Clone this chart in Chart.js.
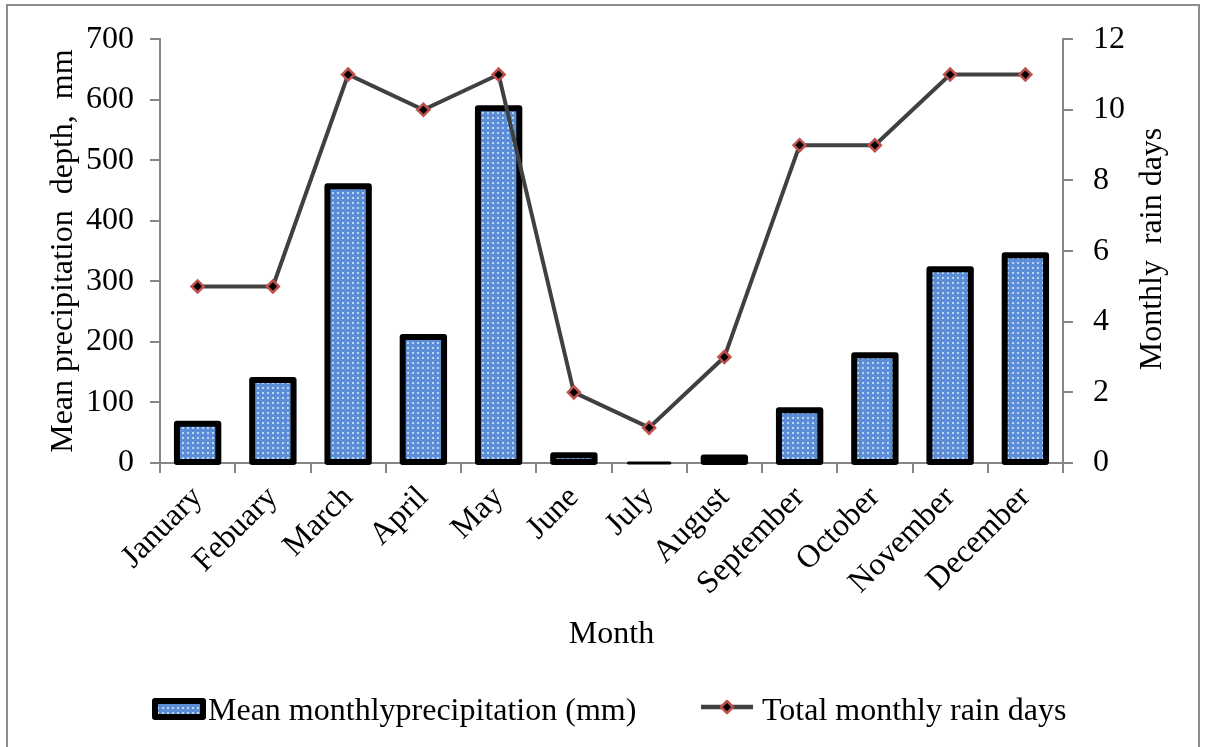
<!DOCTYPE html>
<html>
<head>
<meta charset="utf-8">
<script src="https://cdn.jsdelivr.net/npm/chart.js@4.4.1/dist/chart.umd.min.js"></script>
<style>
  html, body { margin: 0; padding: 0; background: #fff; }
  #wrap { width: 1205px; height: 747px; position: relative; }
</style>
</head>
<body>
<div id="wrap"><canvas id="c"></canvas></div>
<script>
const categories = ['January','Febuary','March','April','May','June','July','August','September','October','November','December'];
const precipitation = [65, 137, 457, 208, 586, 13, 0, 9, 87, 178, 320, 343];
const rainDays = [5, 5, 11, 10, 11, 2, 1, 3, 9, 9, 11, 11];
const precipTicks = [0, 100, 200, 300, 400, 500, 600, 700];
const dayTicks = [0, 2, 4, 6, 8, 10, 12];

const barLabel = 'Mean monthlyprecipitation (mm)';
const lineLabel = 'Total monthly rain days';
const leftTitle = 'Mean precipitation  depth,  mm';
const rightTitle = 'Monthly  rain days';
const xTitle = 'Month';

const FONT = "'Liberation Serif', 'Times New Roman', serif";
const FS = 32;
const AXIS_COLOR = '#868686';
const LINE_COLOR = '#404040';
const MARKER_RED = '#c0504d';

function makePattern() {
  const p = document.createElement('canvas');
  p.width = 5; p.height = 5;
  const g = p.getContext('2d');
  g.fillStyle = '#5b8ed6';
  g.fillRect(0, 0, 5, 5);
  g.fillStyle = '#bcd3f1';
  g.fillRect(2, 2, 2, 2);
  return g.createPattern(p, 'repeat');
}
const ctx0 = document.getElementById('c').getContext('2d');
const pattern = makePattern();

function drawDiamond(ctx, x, y, r) {
  ctx.beginPath();
  ctx.moveTo(x, y - r); ctx.lineTo(x + r, y); ctx.lineTo(x, y + r); ctx.lineTo(x - r, y); ctx.closePath();
  ctx.fillStyle = '#000'; ctx.fill();
  ctx.lineWidth = 2.5; ctx.strokeStyle = MARKER_RED; ctx.stroke();
}

const decor = {
  id: 'decor',
  beforeDraw(chart) {
    const ctx = chart.ctx;
    ctx.save();
    ctx.fillStyle = '#fff';
    ctx.fillRect(0, 0, chart.width, chart.height);
    ctx.strokeStyle = '#8c8c8c';
    ctx.lineWidth = 2;
    ctx.strokeRect(7, 5, 1192, 800);
    ctx.restore();
  },
  afterDatasetDraw(chart, args) {
    if (args.index !== 0) return;
    const ctx = chart.ctx;
    ctx.save();
    ctx.strokeStyle = '#000';
    ctx.lineJoin = 'round';
    args.meta.data.forEach(el => {
      const p = el.getProps(['x', 'y', 'base', 'width'], true);
      const h = p.base - p.y;
      ctx.lineWidth = h < 1 ? 3 : 6;
      ctx.strokeRect(p.x - p.width / 2, p.y, p.width, h);
    });
    ctx.restore();
  },
  afterDraw(chart) {
    const ctx = chart.ctx;
    ctx.save();
    ctx.font = FS + 'px ' + FONT;
    ctx.fillStyle = '#000';
    // right axis title
    ctx.save();
    ctx.translate(1153, 249);
    ctx.rotate(-Math.PI / 2);
    ctx.textAlign = 'center';
    ctx.textBaseline = 'middle';
    ctx.fillText(rightTitle, 0, 0);
    ctx.restore();
    // legend: bar item
    ctx.fillStyle = pattern;
    ctx.fillRect(155, 701, 48, 16);
    ctx.strokeStyle = '#000';
    ctx.lineWidth = 6;
    ctx.lineJoin = 'round';
    ctx.strokeRect(155, 701, 48, 16);
    ctx.fillStyle = '#000';
    ctx.textAlign = 'left';
    ctx.textBaseline = 'middle';
    ctx.fillText(barLabel, 208, 712);
    // legend: line item
    ctx.beginPath();
    ctx.moveTo(701, 707); ctx.lineTo(753, 707);
    ctx.strokeStyle = LINE_COLOR; ctx.lineWidth = 4.5; ctx.stroke();
    drawDiamond(ctx, 727, 707, 6);
    ctx.fillStyle = '#000';
    ctx.fillText(lineLabel, 762, 712);
    ctx.restore();
  }
};

new Chart(document.getElementById('c'), {
  data: {
    labels: categories,
    datasets: [
      {
        type: 'bar',
        label: barLabel,
        data: precipitation,
        yAxisID: 'y',
        backgroundColor: pattern,
        borderWidth: 0,
        categoryPercentage: 1.0,
        barPercentage: 0.55,
        order: 2
      },
      {
        type: 'line',
        label: lineLabel,
        data: rainDays,
        yAxisID: 'y1',
        borderColor: LINE_COLOR,
        borderWidth: 4,
        tension: 0,
        pointStyle: 'rectRot',
        pointRadius: 6,
        pointHoverRadius: 6,
        pointBackgroundColor: '#000',
        pointBorderColor: MARKER_RED,
        pointBorderWidth: 2.5,
        order: 1
      }
    ]
  },
  plugins: [decor],
  options: {
    responsive: true,
    maintainAspectRatio: false,
    animation: false,
    devicePixelRatio: 1,
    layout: { padding: { top: 32, bottom: 0, left: 0, right: 0 } },
    plugins: { legend: { display: false }, tooltip: { enabled: false } },
    scales: {
      x: {
        z: 1,
        offset: true,
        grid: { display: true, drawOnChartArea: false, offset: true, tickLength: 10, color: AXIS_COLOR, lineWidth: 2 },
        border: { color: AXIS_COLOR, width: 2 },
        ticks: { color: '#000', font: { family: FONT, size: FS }, maxRotation: 45, minRotation: 45, padding: 6, autoSkip: false },
        title: { display: true, text: xTitle, color: '#000', font: { family: FONT, size: FS }, padding: { top: 0, bottom: 93 } },
        afterFit(s) { s.height = 284; }
      },
      y: {
        position: 'left',
        min: 0, max: 700,
        afterBuildTicks(s) { s.ticks = precipTicks.map(v => ({ value: v })); },
        grid: { display: true, drawOnChartArea: false, tickLength: 10, color: AXIS_COLOR, lineWidth: 2 },
        border: { color: AXIS_COLOR, width: 2 },
        ticks: { color: '#000', font: { family: FONT, size: FS }, padding: 16 },
        title: { display: true, text: leftTitle, color: '#000', font: { family: FONT, size: FS }, padding: { top: 44, bottom: 0 } },
        afterFit(s) { s.width = 160; }
      },
      y1: {
        position: 'right',
        min: 0, max: 12,
        afterBuildTicks(s) { s.ticks = dayTicks.map(v => ({ value: v })); },
        grid: { display: true, drawOnChartArea: false, tickLength: 10, color: AXIS_COLOR, lineWidth: 2 },
        border: { color: AXIS_COLOR, width: 2 },
        ticks: { color: '#000', font: { family: FONT, size: FS }, padding: 20 },
        afterFit(s) { s.width = 142; }
      }
    }
  }
});
</script>
</body>
</html>
